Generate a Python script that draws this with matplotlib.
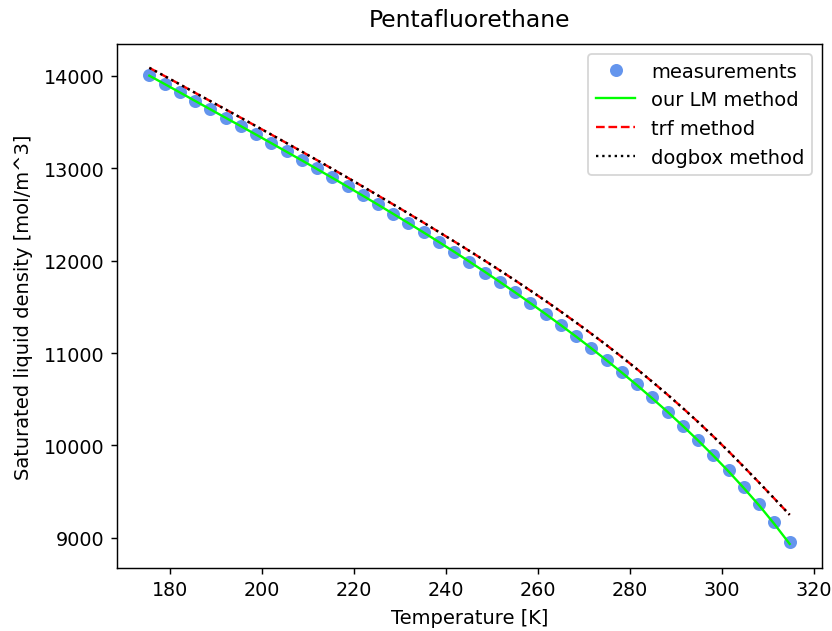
import matplotlib
matplotlib.use("Agg")
import matplotlib.pyplot as plt

temperature = [175.58, 178.89, 182.21, 185.52, 188.83, 192.14, 195.46, 198.77, 202.08, 205.39,
               208.71, 212.02, 215.33, 218.64, 221.96, 225.27, 228.58, 231.89, 235.21, 238.52,
               241.83, 245.14, 248.46, 251.77, 255.08, 258.39, 261.71, 265.02, 268.33, 271.64,
               274.96, 278.27, 281.58, 284.89, 288.21, 291.52, 294.83, 298.14, 301.46, 304.77,
               308.08, 311.39, 314.71]

measurements = [14011, 13915, 13820, 13727, 13636, 13545, 13457, 13368, 13274, 13182,
                13092, 12998, 12902, 12803, 12704, 12609, 12507, 12410, 12307, 12203,
                12093, 11980, 11870, 11765, 11656, 11539, 11421, 11302, 11180, 11058,
                10925, 10794, 10662, 10520, 10366, 10213, 10058, 9902, 9740, 9555,
                9365, 9167, 8957]

lm_fit = [14000, 13910, 13819, 13727, 13636, 13545, 13454, 13362, 13270, 13177,
          13084, 12990, 12895, 12799, 12702, 12604, 12505, 12405, 12303, 12200,
          12095, 11988, 11879, 11768, 11655, 11539, 11421, 11300, 11177, 11050,
          10920, 10787, 10650, 10508, 10362, 10210, 10053, 9889, 9718, 9538,
          9352, 9150, 8935]

trf_fit = [14085, 13996, 13906, 13815, 13725, 13635, 13545, 13454, 13363, 13271,
           13179, 13086, 12992, 12897, 12801, 12704, 12607, 12509, 12409, 12308,
           12207, 12104, 11999, 11893, 11785, 11675, 11563, 11447, 11329, 11208,
           11084, 10956, 10824, 10688, 10548, 10403, 10253, 10097, 9935, 9768,
           9598, 9425, 9250]

dogbox_fit = [14085, 13996, 13906, 13815, 13725, 13635, 13545, 13454, 13363, 13271,
              13179, 13086, 12992, 12897, 12801, 12704, 12607, 12509, 12409, 12308,
              12207, 12104, 11999, 11893, 11785, 11675, 11563, 11447, 11329, 11208,
              11084, 10956, 10824, 10688, 10548, 10403, 10253, 10097, 9935, 9768,
              9598, 9425, 9250]

plt.rcParams['font.size'] = 10.8

fig = plt.figure(figsize=(6.4, 4.8615), dpi=130)
ax = fig.add_axes([0.141, 0.1001, 0.8466, 0.8287])

ax.plot(temperature, measurements, 'o', color='cornflowerblue', markersize=6.2,
        label='measurements')
ax.plot(temperature, lm_fit, '-', color='lime', linewidth=1.3, label='our LM method')
ax.plot(temperature, trf_fit, '--', color='red', linewidth=1.3, label='trf method')
ax.plot(temperature, dogbox_fit, ':', color='black', linewidth=1.3, label='dogbox method')

ax.tick_params(labelsize=10.6)
ax.set_title('Pentafluorethane', fontsize=13, pad=10)
ax.set_xlabel('Temperature [K]', labelpad=5)
ax.set_ylabel('Saturated liquid density [mol/m^3]', labelpad=6)
ax.legend(loc='upper right', fontsize=10.8)

fig.savefig('out.png', dpi=130)
